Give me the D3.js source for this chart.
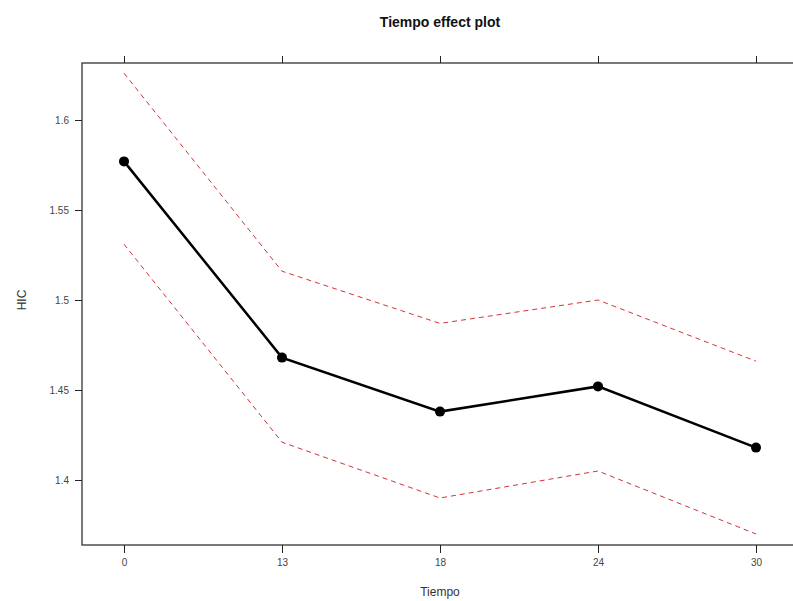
<!DOCTYPE html>
<html><head><meta charset="utf-8">
<script src="https://cdn.jsdelivr.net/npm/d3@7"></script>
<style>body{margin:0;background:#fff}svg{display:block}</style>
</head><body>
<script>
const categories = ["0","13","18","24","30"];
const fitValues = [1.577, 1.468, 1.438, 1.452, 1.418];
const upperValues = [1.626, 1.516, 1.487, 1.500, 1.466];
const lowerValues = [1.531, 1.421, 1.390, 1.405, 1.370];
const yTicks = [1.4, 1.45, 1.5, 1.55, 1.6];

const W = 793, H = 601;
const box = {left: 82, right: 798, top: 63, bottom: 545};
const svg = d3.select("body").append("svg").attr("width", W).attr("height", H)
  .style("font-family", "Liberation Sans, Arial, sans-serif");

const x = d3.scalePoint().domain(categories).range([124, 756]);
const y = d3.scaleLinear().domain([1.4, 1.6]).range([480, 120]);

svg.append("rect").attr("x", box.left).attr("y", box.top)
  .attr("width", box.right - box.left).attr("height", box.bottom - box.top)
  .attr("fill", "none").attr("stroke", "#333").attr("stroke-width", 1.3);

// bottom axis
const xb = svg.append("g").attr("transform", `translate(0,${box.bottom})`)
  .call(d3.axisBottom(x).tickSize(8).tickPadding(6));
xb.select(".domain").remove();
xb.selectAll("line").attr("stroke", "#222");
xb.selectAll("text").attr("font-size", 10).attr("fill", "#444");
// top ticks
const xt = svg.append("g").attr("transform", `translate(0,${box.top})`)
  .call(d3.axisTop(x).tickSize(7).tickFormat(""));
xt.select(".domain").remove();
xt.selectAll("line").attr("stroke", "#222");
// left axis
const yl = svg.append("g").attr("transform", `translate(${box.left},0)`)
  .call(d3.axisLeft(y).tickValues(yTicks).tickSize(7).tickPadding(6).tickFormat(d3.format("")));
yl.select(".domain").remove();
yl.selectAll("line").attr("stroke", "#222");
yl.selectAll("text").attr("font-size", 10).attr("fill", "#444");

svg.append("text").attr("x", 440).attr("y", 27).attr("text-anchor", "middle")
  .attr("font-size", 14).attr("font-weight", "bold").attr("fill", "#111").text("Tiempo effect plot");
svg.append("text").attr("x", 440).attr("y", 596).attr("text-anchor", "middle")
  .attr("font-size", 12).attr("fill", "#333").text("Tiempo");
svg.append("text").attr("transform", "translate(26,300) rotate(-90)").attr("text-anchor", "middle")
  .attr("font-size", 12).attr("fill", "#333").text("HIC");

const line = d3.line().x((d, i) => x(categories[i])).y(d => y(d));
[upperValues, lowerValues].forEach(vals => {
  svg.append("path").datum(vals).attr("d", line).attr("fill", "none")
    .attr("stroke", "#d0343a").attr("stroke-width", 1).attr("stroke-dasharray", "5,4");
});
svg.append("path").datum(fitValues).attr("d", line).attr("fill", "none")
  .attr("stroke", "#000").attr("stroke-width", 2.5);
svg.selectAll("circle.pt").data(fitValues).enter().append("circle")
  .attr("cx", (d, i) => x(categories[i])).attr("cy", d => y(d)).attr("r", 5).attr("fill", "#000");
</script>
</body></html>
